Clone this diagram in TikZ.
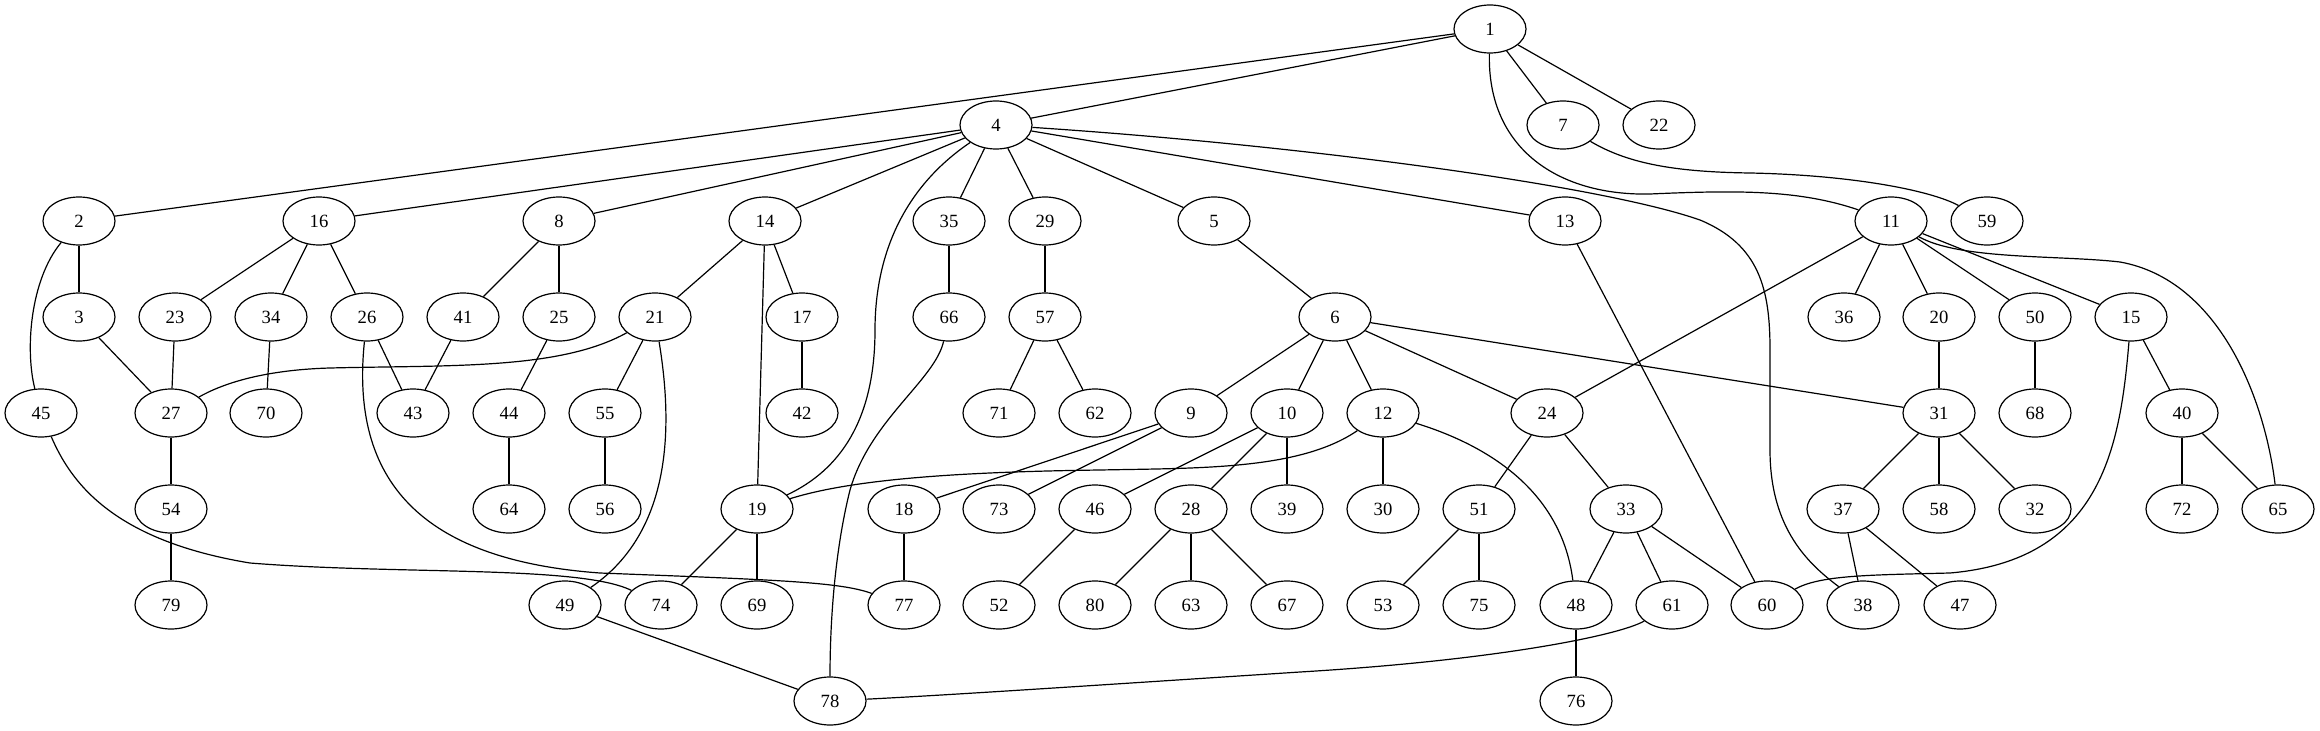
\documentclass[tikz,border=0pt]{standalone}
\usepackage{fontspec}
\setmainfont{Liberation Serif}
\usetikzlibrary{shapes.geometric}

\begin{document}
\begin{tikzpicture}[x=0.75pt,y=-0.75pt,
        vertex/.style={draw,ellipse,line width=0.9pt,minimum width=54pt,minimum height=36pt,inner sep=0pt,font=\fontsize{14}{16}\selectfont},
        every path/.style={line width=0.9pt}]
            \useasboundingbox (0,0) rectangle (2320,731);

            \node[vertex] (n1) at (1490,29) {1};

            \node[vertex] (n4) at (996,125) {4};
            \node[vertex] (n7) at (1563,125) {7};
            \node[vertex] (n22) at (1659,125) {22};

            \node[vertex] (n2) at (79,221) {2};
            \node[vertex] (n16) at (319,221) {16};
            \node[vertex] (n8) at (559,221) {8};
            \node[vertex] (n14) at (765,221) {14};
            \node[vertex] (n35) at (949,221) {35};
            \node[vertex] (n29) at (1045,221) {29};
            \node[vertex] (n5) at (1214,221) {5};
            \node[vertex] (n13) at (1565,221) {13};
            \node[vertex] (n11) at (1891,221) {11};
            \node[vertex] (n59) at (1987,221) {59};

            \node[vertex] (n3) at (79,317) {3};
            \node[vertex] (n23) at (175,317) {23};
            \node[vertex] (n34) at (271,317) {34};
            \node[vertex] (n26) at (367,317) {26};
            \node[vertex] (n41) at (463,317) {41};
            \node[vertex] (n25) at (559,317) {25};
            \node[vertex] (n21) at (655,317) {21};
            \node[vertex] (n17) at (802,317) {17};
            \node[vertex] (n66) at (949,317) {66};
            \node[vertex] (n57) at (1045,317) {57};
            \node[vertex] (n6) at (1335,317) {6};
            \node[vertex] (n36) at (1844,317) {36};
            \node[vertex] (n20) at (1939,317) {20};
            \node[vertex] (n50) at (2035,317) {50};
            \node[vertex] (n15) at (2131,317) {15};

            \node[vertex] (n45) at (41,413) {45};
            \node[vertex] (n27) at (171,413) {27};
            \node[vertex] (n70) at (266,413) {70};
            \node[vertex] (n43) at (413,413) {43};
            \node[vertex] (n44) at (509,413) {44};
            \node[vertex] (n55) at (605,413) {55};
            \node[vertex] (n42) at (802,413) {42};
            \node[vertex] (n71) at (999,413) {71};
            \node[vertex] (n62) at (1095,413) {62};
            \node[vertex] (n9) at (1191,413) {9};
            \node[vertex] (n10) at (1287,413) {10};
            \node[vertex] (n12) at (1383,413) {12};
            \node[vertex] (n24) at (1547,413) {24};
            \node[vertex] (n31) at (1939,413) {31};
            \node[vertex] (n68) at (2035,413) {68};
            \node[vertex] (n40) at (2182,413) {40};

            \node[vertex] (n54) at (171,509) {54};
            \node[vertex] (n64) at (509,509) {64};
            \node[vertex] (n56) at (605,509) {56};
            \node[vertex] (n19) at (757,509) {19};
            \node[vertex] (n18) at (904,509) {18};
            \node[vertex] (n73) at (999,509) {73};
            \node[vertex] (n46) at (1095,509) {46};
            \node[vertex] (n28) at (1191,509) {28};
            \node[vertex] (n39) at (1287,509) {39};
            \node[vertex] (n30) at (1383,509) {30};
            \node[vertex] (n51) at (1479,509) {51};
            \node[vertex] (n33) at (1626,509) {33};
            \node[vertex] (n37) at (1843,509) {37};
            \node[vertex] (n58) at (1939,509) {58};
            \node[vertex] (n32) at (2035,509) {32};
            \node[vertex] (n72) at (2182,509) {72};
            \node[vertex] (n65) at (2278,509) {65};

            \node[vertex] (n79) at (171,605) {79};
            \node[vertex] (n49) at (565,605) {49};
            \node[vertex] (n74) at (661,605) {74};
            \node[vertex] (n69) at (757,605) {69};
            \node[vertex] (n77) at (904,605) {77};
            \node[vertex] (n52) at (999,605) {52};
            \node[vertex] (n80) at (1095,605) {80};
            \node[vertex] (n63) at (1191,605) {63};
            \node[vertex] (n67) at (1287,605) {67};
            \node[vertex] (n53) at (1383,605) {53};
            \node[vertex] (n75) at (1479,605) {75};
            \node[vertex] (n48) at (1576,605) {48};
            \node[vertex] (n61) at (1672,605) {61};
            \node[vertex] (n60) at (1767,605) {60};
            \node[vertex] (n38) at (1863,605) {38};
            \node[vertex] (n47) at (1960,605) {47};

            \node[vertex] (n78) at (830,701) {78};
            \node[vertex] (n76) at (1576,701) {76};

            \draw (n1) -- (n2);
            \draw (n1) -- (n4);
            \draw (n1) -- (n7);
            \draw (n1) -- (n22);
            \draw (n1) .. controls (1487,150) and (1560,196) .. (1650,194) .. controls (1740,190) and (1800,190) .. (n11);
            \draw (n7) .. controls (1630,165) and (1680,172) .. (1750,173) .. controls (1850,175) and (1930,190) .. (n59);

            \draw (n4) -- (n16);
            \draw (n4) -- (n8);
            \draw (n4) -- (n14);
            \draw (n4) -- (n35);
            \draw (n4) -- (n29);
            \draw (n4) -- (n5);
            \draw (n4) -- (n13);
            \draw (n4) .. controls (900,190) and (875,260) .. (875,330) .. controls (875,420) and (840,470) .. (n19);
            \draw (n4) .. controls (1300,145) and (1600,185) .. (1700,220) .. controls (1760,245) and (1770,290) .. (1770,350) -- (1770,450) .. controls (1770,530) and (1810,565) .. (n38);

            \draw (n2) -- (n3);
            \draw (n2) .. controls (30,280) and (25,350) .. (n45);
            \draw (n3) -- (n27);
            \draw (n16) -- (n23);
            \draw (n16) -- (n34);
            \draw (n16) -- (n26);
            \draw (n23) -- (n27);
            \draw (n34) -- (n70);
            \draw (n26) -- (n43);
            \draw (n26) .. controls (350,480) and (420,560) .. (600,573) .. controls (780,580) and (840,582) .. (n77);
            \draw (n8) -- (n41);
            \draw (n8) -- (n25);
            \draw (n41) -- (n43);
            \draw (n25) -- (n44);
            \draw (n44) -- (n64);
            \draw (n14) -- (n21);
            \draw (n14) -- (n17);
            \draw (n14) -- (n19);
            \draw (n21) .. controls (560,370) and (450,365) .. (330,368) .. controls (260,370) and (220,385) .. (n27);
            \draw (n21) -- (n55);
            \draw (n21) .. controls (672,420) and (675,530) .. (n49);
            \draw (n17) -- (n42);
            \draw (n35) -- (n66);
            \draw (n66) .. controls (935,380) and (870,420) .. (850,490) .. controls (835,550) and (830,620) .. (n78);
            \draw (n29) -- (n57);
            \draw (n57) -- (n71);
            \draw (n57) -- (n62);
            \draw (n5) -- (n6);

            \draw (n6) -- (n9);
            \draw (n6) -- (n10);
            \draw (n6) -- (n12);
            \draw (n6) -- (n24);
            \draw (n6) -- (n31);
            \draw (n9) -- (n18);
            \draw (n9) -- (n73);
            \draw (n10) -- (n46);
            \draw (n10) -- (n28);
            \draw (n10) -- (n39);
            \draw (n12) .. controls (1300,470) and (1200,468) .. (1100,470) .. controls (950,472) and (850,480) .. (n19);
            \draw (n12) -- (n30);
            \draw (n12) .. controls (1470,440) and (1560,480) .. (n48);
            \draw (n13) -- (n60);

            \draw (n11) -- (n24);
            \draw (n11) -- (n36);
            \draw (n11) -- (n20);
            \draw (n11) -- (n50);
            \draw (n11) -- (n15);
            \draw (n11) .. controls (1960,260) and (2060,255) .. (2120,262) .. controls (2220,280) and (2265,400) .. (n65);
            \draw (n20) -- (n31);
            \draw (n50) -- (n68);
            \draw (n15) -- (n40);
            \draw (n15) .. controls (2120,450) and (2100,560) .. (1950,573) .. controls (1870,575) and (1820,575) .. (n60);
            \draw (n40) -- (n72);
            \draw (n40) -- (n65);

            \draw (n24) -- (n51);
            \draw (n24) -- (n33);
            \draw (n31) -- (n37);
            \draw (n31) -- (n58);
            \draw (n31) -- (n32);
            \draw (n37) -- (n38);
            \draw (n37) -- (n47);
            \draw (n33) -- (n48);
            \draw (n33) -- (n61);
            \draw (n33) -- (n60);
            \draw (n51) -- (n53);
            \draw (n51) -- (n75);
            \draw (n28) -- (n80);
            \draw (n28) -- (n63);
            \draw (n28) -- (n67);
            \draw (n46) -- (n52);
            \draw (n18) -- (n77);
            \draw (n19) -- (n74);
            \draw (n19) -- (n69);
            \draw (n45) .. controls (70,480) and (110,540) .. (250,563) .. controls (400,575) and (580,565) .. (n74);
            \draw (n27) -- (n54);
            \draw (n54) -- (n79);
            \draw (n55) -- (n56);
            \draw (n49) -- (n78);
            \draw (n61) .. controls (1620,635) and (1500,660) .. (1300,672) .. controls (1100,685) and (950,695) .. (n78);
            \draw (n48) -- (n76);
        \end{tikzpicture}
\end{document}
